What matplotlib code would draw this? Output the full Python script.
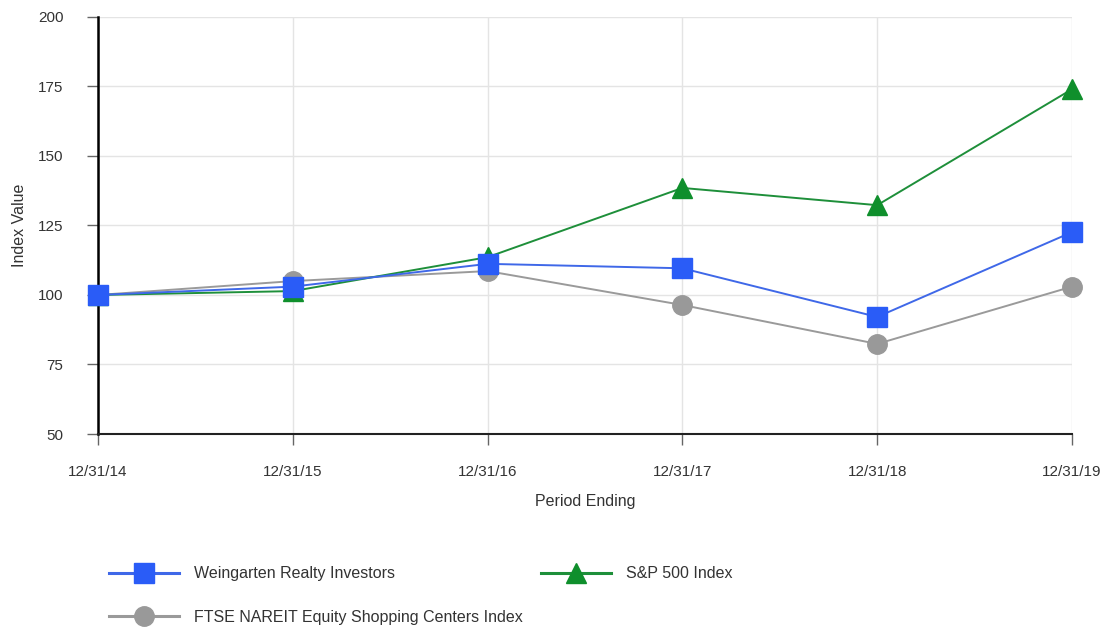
import matplotlib.pyplot as plt
import numpy as np

plt.rcParams['font.family'] = ['Liberation Sans', 'DejaVu Sans']

# 期間と各指数の値
Periods = ["12/31/14", "12/31/15", "12/31/16", "12/31/17", "12/31/18", "12/31/19"]
Weingarten = [100.0, 103.0, 111.2, 109.6, 92.1, 122.6]
SP500 = [100.0, 101.4, 113.6, 138.5, 132.3, 174.0]
FtseNareit = [100.0, 105.0, 108.6, 96.4, 82.4, 103.0]

YTicks = [50, 75, 100, 125, 150, 175, 200]


def Main():
    fig = plt.figure(figsize=(11.04, 6.27), dpi=100)
    ax = fig.add_axes([0.0888, 0.3078, 0.8822, 0.6652])
    x = np.arange(len(Periods))

    lw = ax.plot(x, Weingarten, color="#3f68e8", lw=1.4, marker="s", ms=14,
                 mfc="#2a5cf7", mec="#2a5cf7", label="Weingarten Realty Investors",
                 zorder=5, clip_on=False)
    ls = ax.plot(x, SP500, color="#1e8f3a", lw=1.4, marker="^", ms=15,
                 mfc="#0f8f2c", mec="#0f8f2c", label="S&P 500 Index",
                 zorder=4, clip_on=False)
    lf = ax.plot(x, FtseNareit, color="#9a9a9a", lw=1.4, marker="o", ms=14,
                 mfc="#999999", mec="#999999",
                 label="FTSE NAREIT Equity Shopping Centers Index",
                 zorder=3, clip_on=False)

    ax.set_xlim(0, len(Periods) - 1)
    ax.set_ylim(50, 200)
    ax.set_xticks(x)
    ax.set_xticklabels(Periods)
    ax.set_yticks(YTicks)
    ax.grid(True, color="#e4e4e4", lw=1.0)
    ax.set_axisbelow(True)

    for s in ["top", "right"]:
        ax.spines[s].set_visible(False)
    ax.spines["left"].set_color("black")
    ax.spines["left"].set_linewidth(1.8)
    ax.spines["bottom"].set_color("#222222")
    ax.spines["bottom"].set_linewidth(1.5)
    ax.tick_params(axis="both", colors="#666666", labelcolor="#333333",
                   labelsize=11, length=8, width=1)
    ax.tick_params(axis="x", pad=14)
    ax.tick_params(axis="y", pad=17)

    ax.set_xlabel("Period Ending", fontsize=11.5, color="#333333", labelpad=11)
    ax.set_ylabel("Index Value", fontsize=11.5, color="#333333", labelpad=8)

    handles = [lw[0], lf[0], ls[0]]
    leg = fig.legend(handles=handles, labels=[h.get_label() for h in handles],
                     loc="upper left", bbox_to_anchor=(0.0985, 0.097), ncol=2,
                     frameon=False, fontsize=11.5, handlelength=4.4, handletextpad=0.95,
                     columnspacing=1.1, labelspacing=1.8, borderaxespad=0, borderpad=0,
                     labelcolor="#333333")
    for h in leg.legend_handles:
        h.set_linewidth(2.2)

    fig.savefig("out.png", dpi=100)


if __name__ == "__main__":
    Main()
